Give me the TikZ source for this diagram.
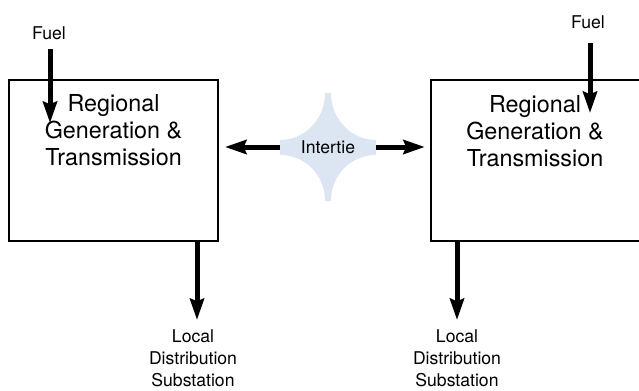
\documentclass[tikz,border=0pt]{standalone}
\usepackage{fontspec}
\setmainfont{TeX Gyre Heros}
\usetikzlibrary{arrows.meta}

\definecolor{tieblue}{RGB}{220,230,243}

\tikzset{every picture/.style={line width=0.75pt}}
\tikzset{
  regionbox/.style={draw, line width=1.5pt, minimum width=156.75pt, minimum height=120.75pt, inner sep=0pt},
  regiontext/.style={align=center, font=\fontsize{17.5}{20.25}\selectfont, inner sep=0pt},
  smalltext/.style={align=center, font=\fontsize{13.2}{16.5}\selectfont, inner sep=0pt},
  flow/.style={line width=3.75pt, -{Stealth[length=16pt,width=10.5pt,inset=2pt]}}
}

\begin{document}
\begin{tikzpicture}[x=0.75pt,y=0.75pt,yscale=-1,xscale=1]
	\useasboundingbox (0,0) rectangle (639,390);

	% intertie star
	\fill [tieblue] (325,93) -- (331,93) .. controls (331,119) and (351,140) .. (376,140) -- (376,155) .. controls (351,155) and (331,175) .. (331,201) -- (325,201) .. controls (325,175) and (305,155) .. (280,155) -- (280,140) .. controls (305,140) and (325,119) .. (325,93) -- cycle ;

	% boxes
	\node [regionbox] (regionL) at (113.5,160.5) {};
	\node [regionbox] (regionR) at (535,160.5) {};
	\node [regiontext] (genL) at (113.5,130) {Regional\\Generation \&\\Transmission};
	\node [regiontext] (genR) at (535,131) {Regional\\Generation \&\\Transmission};

	% labels
	\node [smalltext] (fuelL) at (49,33) {Fuel};
	\node [smalltext] (fuelR) at (588,22) {Fuel};
	\node [smalltext] (tie) at (328,147) {Intertie};
	\node [smalltext] (subL) at (193,358) {Local\\Distribution\\Substation};
	\node [smalltext] (subR) at (457,358) {Local\\Distribution\\Substation};

	\coordinate (fuelLend) at (50,123);
	\coordinate (fuelRend) at (590,113);
	\coordinate (outL) at (197,241);
	\coordinate (outR) at (457,241);
	\coordinate (tieW) at (280,147);
	\coordinate (tieE) at (376,147);

	% arrows
	\draw [flow] (fuelLend |- 0,49) -- (fuelLend) ;
	\draw [flow] (fuelRend |- 0,43) -- (fuelRend) ;
	\draw [flow] (outL) -- (outL |- 0,320) ;
	\draw [flow] (outR) -- (outR |- 0,320) ;
	\draw [flow, shorten >=4.5pt] (tieW) -- (regionL.east |- tieW) ;
	\draw [flow, shorten >=3.5pt] (tieE) -- (regionR.west |- tieE) ;

\end{tikzpicture}
\end{document}
